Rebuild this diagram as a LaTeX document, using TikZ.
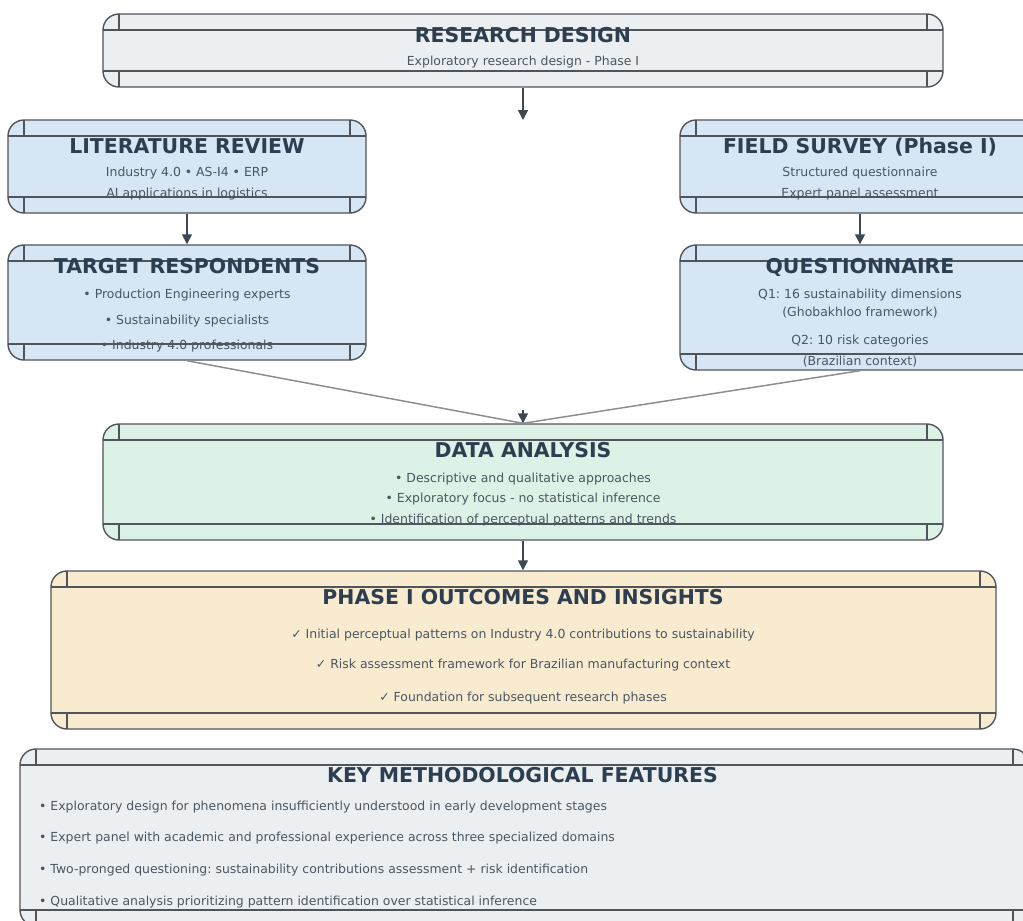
\documentclass[tikz,border=0pt]{standalone}
\usepackage{fontspec}
\setmainfont{DejaVu Sans}
\usetikzlibrary{arrows.meta}
\frenchspacing
\definecolor{framec}{HTML}{50555C}
\definecolor{arrowc}{HTML}{3D4855}
\definecolor{feedc}{HTML}{8E8E8E}
\definecolor{titlec}{HTML}{2C3E50}
\definecolor{bodyc}{HTML}{4A5661}
\definecolor{greyc}{HTML}{ECEFF1}
\definecolor{bluec}{HTML}{D6E6F5}
\definecolor{greenc}{HTML}{DDF2E6}
\definecolor{yellowc}{HTML}{F9EBD0}
\begin{document}
\begin{tikzpicture}[x=1bp,y=-1bp,
  box/.style={draw=framec, line width=1.4bp, rounded corners=16bp, inner sep=0pt,
    path picture={
      \draw[framec, line width=1.4bp, sharp corners]
        ([yshift=-16bp]path picture bounding box.north west) -- ([yshift=-16bp]path picture bounding box.north east)
        ([yshift=16bp]path picture bounding box.south west) -- ([yshift=16bp]path picture bounding box.south east)
        ([xshift=16bp]path picture bounding box.north west) -- ++(0,-16bp)
        ([xshift=-16bp]path picture bounding box.north east) -- ++(0,-16bp)
        ([xshift=16bp]path picture bounding box.south west) -- ++(0,16bp)
        ([xshift=-16bp]path picture bounding box.south east) -- ++(0,16bp);
    }},
  ttl/.style={text=titlec, font=\bfseries\fontsize{20.5}{24}\selectfont, inner sep=0pt, anchor=base},
  txt/.style={text=bodyc, font=\fontsize{12.5}{15}\selectfont, inner sep=0pt, anchor=base},
  arr/.style={draw=arrowc, line width=1.5bp, -{Triangle[length=10bp,width=10bp]}},
  feed/.style={draw=feedc, line width=1.5bp}]
\useasboundingbox[fill=white] (0,0) rectangle (1023,921);

% research design
\node[box, fill=greyc, minimum width=840bp, minimum height=73bp] (design) at (523,50.5) {};
\node[ttl] (designT) at (523,42.5) {RESEARCH DESIGN};
\node[txt] (designS) at (523,65.5) {Exploratory research design - Phase I};

% two branches
\node[box, fill=bluec, minimum width=358bp, minimum height=93bp] (lit) at (187,166.5) {};
\node[ttl] (litT) at (187,153.5) {LITERATURE REVIEW};
\node[txt] (litA) at (187,176.5) {Industry 4.0 • AS-I4 • ERP};
\node[txt] (litB) at (187,197.5) {AI applications in logistics};

\node[box, fill=bluec, minimum width=360bp, minimum height=93bp] (survey) at (860,166.5) {};
\node[ttl] (surveyT) at (860,153.5) {FIELD SURVEY (Phase I)};
\node[txt] (surveyA) at (860,176.5) {Structured questionnaire};
\node[txt] (surveyB) at (860,197.5) {Expert panel assessment};

\node[box, fill=bluec, minimum width=358bp, minimum height=115bp] (target) at (187,302.5) {};
\node[ttl] (targetT) at (187,273.5) {TARGET RESPONDENTS};
\node[txt] (targetA) at (187,298.5) {• Production Engineering experts};
\node[txt] (targetB) at (187,324.5) {• Sustainability specialists};
\node[txt] (targetC) at (187,349.5) {• Industry 4.0 professionals};

\node[box, fill=bluec, minimum width=360bp, minimum height=125bp] (quest) at (860,307.5) {};
\node[ttl] (questT) at (860,273.5) {QUESTIONNAIRE};
\node[txt] (questA) at (860,298.5) {Q1: 16 sustainability dimensions};
\node[txt] (questB) at (860,316.5) {(Ghobakhloo framework)};
\node[txt] (questC) at (860,344.5) {Q2: 10 risk categories};
\node[txt] (questD) at (860,365.5) {(Brazilian context)};

% analysis
\node[box, fill=greenc, minimum width=840bp, minimum height=116bp] (analysis) at (523,482) {};
\node[ttl] (analysisT) at (523,457.5) {DATA ANALYSIS};
\node[txt] (analysisA) at (523,482.5) {• Descriptive and qualitative approaches};
\node[txt] (analysisB) at (523,502.5) {• Exploratory focus - no statistical inference};
\node[txt] (analysisC) at (523,523.5) {• Identification of perceptual patterns and trends};

% outcomes
\node[box, fill=yellowc, minimum width=945bp, minimum height=158bp] (outcome) at (523.5,650) {};
\node[ttl] (outcomeT) at (523,604.5) {PHASE I OUTCOMES AND INSIGHTS};
\node[txt] (outcomeA) at (523,638.5) {✓ Initial perceptual patterns on Industry 4.0 contributions to sustainability};
\node[txt] (outcomeB) at (523,668.5) {✓ Risk assessment framework for Brazilian manufacturing context};
\node[txt] (outcomeC) at (523,701.5) {✓ Foundation for subsequent research phases};

% features
\node[box, fill=greyc, minimum width=1009bp, minimum height=177bp] (feature) at (524.5,837.5) {};
\node[ttl] (featureT) at (522.5,782.5) {KEY METHODOLOGICAL FEATURES};
\node[txt, anchor=base west] (featureA) at (39,810.5) {• Exploratory design for phenomena insufficiently understood in early development stages};
\node[txt, anchor=base west] (featureB) at (39,841.5) {• Expert panel with academic and professional experience across three specialized domains};
\node[txt, anchor=base west] (featureC) at (39,873.5) {• Two-pronged questioning: sustainability contributions assessment + risk identification};
\node[txt, anchor=base west] (featureD) at (39,905.5) {• Qualitative analysis prioritizing pattern identification over statistical inference};

% connectors
\coordinate (split) at (523,120);
\coordinate (merge) at (523,410);
\draw[arr] (design) -- (split);
\draw[arr] (lit) -- (target);
\draw[arr] (survey) -- (quest);
\draw[feed] (target.south) -- (analysis.north);
\draw[feed] (quest.south) -- (analysis.north);
\draw[arr] (merge) -- (analysis.north);
\draw[arr] (analysis.south) -- (analysis.south |- outcome.north);
\end{tikzpicture}
\end{document}
